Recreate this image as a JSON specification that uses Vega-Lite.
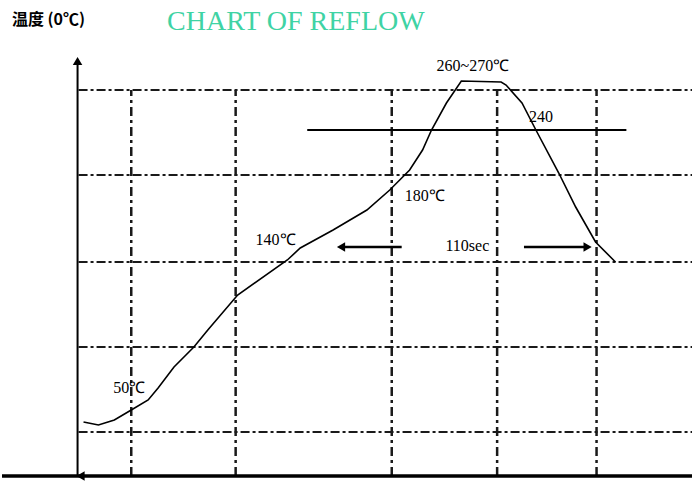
{
  "$schema": "https://vega.github.io/schema/vega-lite/v6.json",
  "width": 694,
  "height": 481,
  "autosize": {"type": "fit", "contains": "padding"},
  "padding": 0,
  "background": "white",
  "config": {"view": {"stroke": null}},
  "datasets": {
    "hgrid": [{"x": 77, "x2": 694, "y": 49}, {"x": 77, "x2": 694, "y": 134}, {"x": 77, "x2": 694, "y": 219}, {"x": 77, "x2": 694, "y": 306}, {"x": 77, "x2": 694, "y": 391}],
    "vgrid": [{"x": 130, "y": 5, "y2": 391}, {"x": 235, "y": 5, "y2": 391}, {"x": 392, "y": 5, "y2": 391}, {"x": 498, "y": 5, "y2": 391}, {"x": 598, "y": 5, "y2": 391}],
    "yaxis": [{"x": 76, "y": 5, "y2": 418}],
    "xaxis": [{"x": 0, "x2": 694, "y": 5}],
    "level": [{"x": 307, "x2": 628, "y": 351}],
    "arrows": [{"x": 343, "x2": 402, "y": 234}, {"x": 525, "x2": 586, "y": 234}],
    "heads": [{"x": 76, "y": 420, "dir": "up"}, {"x": 341, "y": 234, "dir": "left"}, {"x": 589, "y": 234, "dir": "right"}, {"x": 79, "y": 5, "dir": "left"}],
    "curve": [
      {"x": 82, "y": 59}, {"x": 97, "y": 56}, {"x": 113, "y": 61}, {"x": 130, "y": 71}, {"x": 147, "y": 81},
      {"x": 157, "y": 93}, {"x": 173, "y": 114}, {"x": 193, "y": 134}, {"x": 207, "y": 151}, {"x": 237, "y": 186},
      {"x": 287, "y": 221}, {"x": 300, "y": 233}, {"x": 333, "y": 251}, {"x": 367, "y": 271}, {"x": 390, "y": 291},
      {"x": 400, "y": 301}, {"x": 410, "y": 311}, {"x": 423, "y": 331}, {"x": 432, "y": 351}, {"x": 447, "y": 378},
      {"x": 462, "y": 400}, {"x": 502, "y": 399}, {"x": 507, "y": 396}, {"x": 523, "y": 378}, {"x": 537, "y": 351},
      {"x": 560, "y": 308}, {"x": 577, "y": 274}, {"x": 597, "y": 239}, {"x": 617, "y": 219}
    ],
    "labels": [
      {"x": 437, "y": 415, "label": "260~270℃"},
      {"x": 530, "y": 364, "label": "240"},
      {"x": 405, "y": 285, "label": "180℃"},
      {"x": 255, "y": 241, "label": "140℃"},
      {"x": 446, "y": 235, "label": "110sec"},
      {"x": 112, "y": 93, "label": "50℃"}
    ],
    "ylabel": [{"x": 10, "y": 461, "label": "温度 (0℃)"}],
    "title": [{"x": 166, "y": 459, "label": "CHART OF REFLOW"}]
  },
  "encoding": {
    "x": {"field": "x", "type": "quantitative", "scale": {"domain": [0, 694], "nice": false, "zero": false}, "axis": null},
    "y": {"field": "y", "type": "quantitative", "scale": {"domain": [0, 481], "nice": false, "zero": false}, "axis": null}
  },
  "layer": [
    {"data": {"name": "hgrid"}, "mark": {"type": "rule", "color": "#1a1a1a", "strokeWidth": 2, "strokeDash": [9, 3, 3, 3]}, "encoding": {"x2": {"field": "x2"}}},
    {"data": {"name": "vgrid"}, "mark": {"type": "rule", "color": "#1a1a1a", "strokeWidth": 2.5, "strokeDash": [9, 4, 3, 4]}, "encoding": {"y2": {"field": "y2"}}},
    {"data": {"name": "yaxis"}, "mark": {"type": "rule", "color": "#000", "strokeWidth": 2}, "encoding": {"y2": {"field": "y2"}}},
    {"data": {"name": "xaxis"}, "mark": {"type": "rule", "color": "#000", "strokeWidth": 3.5}, "encoding": {"x2": {"field": "x2"}}},
    {"data": {"name": "level"}, "mark": {"type": "rule", "color": "#000", "strokeWidth": 2}, "encoding": {"x2": {"field": "x2"}}},
    {"data": {"name": "arrows"}, "mark": {"type": "rule", "color": "#000", "strokeWidth": 2.5}, "encoding": {"x2": {"field": "x2"}}},
    {"data": {"name": "heads"}, "mark": {"type": "point", "filled": true, "color": "#000", "opacity": 1, "size": 90},
     "encoding": {"shape": {"field": "dir", "type": "nominal", "scale": {"domain": ["up", "left", "right"], "range": ["triangle-up", "triangle-left", "triangle-right"]}, "legend": null}}},
    {"data": {"name": "curve"}, "mark": {"type": "line", "color": "#000", "strokeWidth": 1.6, "interpolate": "linear"}, "encoding": {}},
    {"data": {"name": "labels"}, "mark": {"type": "text", "align": "left", "baseline": "middle", "font": "Liberation Serif", "fontSize": 16, "color": "#000"}, "encoding": {"text": {"field": "label"}}},
    {"data": {"name": "ylabel"}, "mark": {"type": "text", "align": "left", "baseline": "middle", "font": "Noto Sans CJK SC", "fontSize": 16, "fontWeight": "bold", "color": "#000"}, "encoding": {"text": {"field": "label"}}},
    {"data": {"name": "title"}, "mark": {"type": "text", "align": "left", "baseline": "middle", "font": "Liberation Serif", "fontSize": 28, "color": "#3fd3a4"}, "encoding": {"text": {"field": "label"}}}
  ]
}
